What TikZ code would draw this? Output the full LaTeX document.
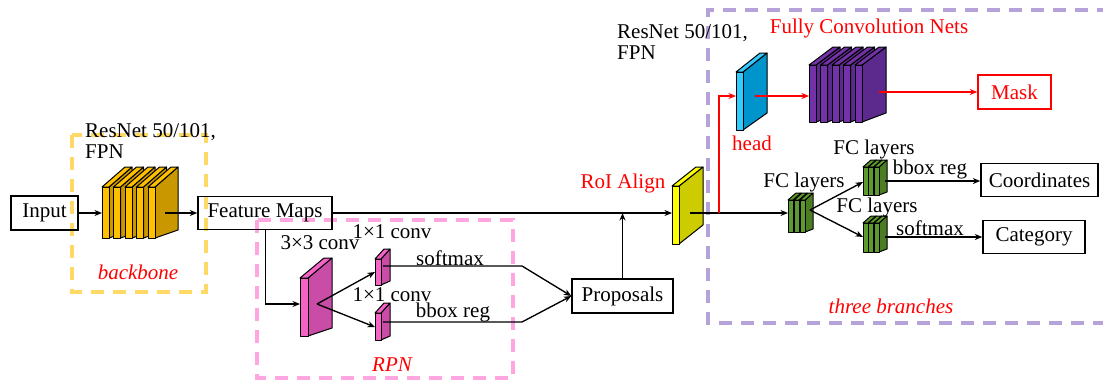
\documentclass[tikz,border=0pt]{standalone}
\usepackage{fontspec}
\setmainfont{Liberation Serif}
\usetikzlibrary{arrows.meta}
\newcommand\fs{\fontsize{21}{20.5}\selectfont}
\definecolor{bbdash}{HTML}{FFD966}
\definecolor{rpndash}{HTML}{FFA6E0}
\definecolor{brdash}{HTML}{B4A2D8}
\definecolor{yelF}{HTML}{FFC000}
\definecolor{yelS}{HTML}{C99700}
\definecolor{pinkF}{HTML}{F463C6}
\definecolor{pinkS}{HTML}{C94DA6}
\definecolor{roiF}{HTML}{FFFF00}
\definecolor{roiS}{HTML}{CCCC00}
\definecolor{blueF}{HTML}{33CCFF}
\definecolor{blueS}{HTML}{0094CC}
\definecolor{purF}{HTML}{7432A8}
\definecolor{purS}{HTML}{5B2A8C}
\definecolor{grnF}{HTML}{5E9A2D}
\definecolor{grnS}{HTML}{4C7D24}
\newcommand\myslab[9]{%
  \filldraw[fill=#9, slabline] ({#1+#4},#2) -- ({#1+#4+#5},{#2-#6}) -- ({#1+#4+#5},{#3-#7}) -- ({#1+#4},#3) -- cycle;
  \filldraw[fill=#8, slabline] (#1,#2) -- ({#1+#5},{#2-#6}) -- ({#1+#4+#5},{#2-#6}) -- ({#1+#4},#2) -- cycle;
  \filldraw[fill=#8, slabline] (#1,#2) rectangle ({#1+#4},#3);
}
\tikzset{
  slabline/.style={draw=black, line width=1pt, line join=round},
  box/.style={draw=black, line width=1.4pt, inner sep=0pt, font=\fs},
  lbl/.style={inner sep=0pt, font=\fs},
  redlbl/.style={lbl, text=red},
  conn/.style={draw=black, line width=1.35pt},
  arr/.style={conn, -{Stealth[length=7.5pt,width=6pt]}},
  redarr/.style={draw=red, line width=1.35pt, -{Stealth[length=7.5pt,width=6pt]}},
  dashbox/.style={line width=3.2pt, dash pattern=on 13pt off 9pt},
}
\begin{document}
\begin{tikzpicture}[x=1pt,y=-1pt]
\useasboundingbox (0,0) rectangle (1103,381);
% dashed regions
\draw[dashbox, draw=bbdash] (72,135) rectangle (206,292);
\draw[dashbox, draw=rpndash] (257,220) rectangle (513,378);
\draw[dashbox, draw=brdash] (1110,10) -- (708,10) -- (708,323) -- (1110,323);

% boxes
\node[box, minimum width=67pt, minimum height=34pt] (inp) at (44.5,213) {Input};
\node[box, minimum width=134pt, minimum height=33pt] (fm) at (265,213) {Feature Maps};
\node[box, minimum width=101pt, minimum height=34pt] (prop) at (622.5,296) {Proposals};
\node[box, draw=red, text=red, minimum width=73pt, minimum height=34pt] (mask) at (1014.5,92) {Mask};
\node[box, minimum width=117pt, minimum height=33pt] (coord) at (1039.5,180) {Coordinates};
\node[box, minimum width=102pt, minimum height=33pt] (cat) at (1034,237) {Category};

% slabs
\foreach \xx in {102,113.5,125,136.5,148} {\myslab{\xx}{187}{238}{7}{23}{20}{8}{yelF}{yelS}}
\myslab{300}{278}{336}{8}{24}{20}{8}{pinkF}{pinkS}
\myslab{375}{259}{285}{6}{9}{10}{4}{pinkF}{pinkS}
\myslab{375}{313}{340}{6}{9}{10}{4}{pinkF}{pinkS}
\myslab{672}{186}{244}{7}{24}{19}{19}{roiF}{roiS}
\myslab{736}{72}{130}{7}{24}{19}{17}{blueF}{blueS}
\foreach \xx in {809,820.5,832,843.5,855} {\myslab{\xx}{65}{122}{7}{24}{18}{9}{purF}{purS}}
\foreach \xx in {788,794,800} {\myslab{\xx}{200}{232}{5}{8}{7}{3}{grnF}{grnS}}
\foreach \xx in {863,868.5,874} {\myslab{\xx}{167}{195}{5}{8}{7}{3}{grnF}{grnS}}
\foreach \xx in {863,868.5,874} {\myslab{\xx}{223}{252}{5}{8}{7}{3}{grnF}{grnS}}

% connection points
\coordinate (bbIn) at (102,213);
\coordinate (bbOut) at (165,213);
\coordinate (c3In) at (300,304);
\coordinate (c3Out) at (317,304);
\coordinate (c1aIn) at (375,272);
\coordinate (c1bIn) at (375,327);
\coordinate (c1aOut) at (383,266);
\coordinate (c1bOut) at (383,322);
\coordinate (bendA) at (522,266);
\coordinate (bendB) at (522,322);
\coordinate (roiIn) at (672,213);
\coordinate (roiOut) at (690,213);
\coordinate (redJ) at (719,213);
\coordinate (headIn) at (736,96);
\coordinate (headOut) at (755,96);
\coordinate (fcnIn) at (809,96);
\coordinate (fcnOut) at (879,92);
\coordinate (g1In) at (788,213);
\coordinate (g1Out) at (810,210);
\coordinate (g2In) at (863,182);
\coordinate (g3In) at (863,237);
\coordinate (g2Out) at (885,181);
\coordinate (g3Out) at (885,237);

% connectors
\draw[arr] (inp.east) -- (bbIn);
\draw[arr] (bbOut) -- (fm.west);
\draw[arr] (fm.east) -- (roiIn);
\draw[arr] ([xshift=68pt]fm.south west) |- (c3In);
\draw[arr] (c3Out) -- (c1aIn);
\draw[arr] (c3Out) -- (c1bIn);
\draw[arr] (c1aOut) -- (bendA) -- (prop.west);
\draw[arr] (c1bOut) -- (bendB) -- (prop.west);
\draw[arr] (prop.north) -- (prop.north |- roiIn);
\draw[arr] (roiOut) -- (g1In);
\draw[redarr] (redJ) |- (headIn);
\draw[redarr] (headOut) -- (fcnIn);
\draw[redarr] (fcnOut) -- (mask.west);
\draw[arr] (g1Out) -- (g2In);
\draw[arr] (g1Out) -- (g3In);
\draw[arr] (g2Out) -- (g2Out -| coord.west);
\draw[arr] (g3Out) -- (g3Out -| cat.west);

% labels
\node[lbl, align=left, anchor=west] (rn1) at (85,141) {ResNet 50/101,\\FPN};
\node[lbl, align=left, anchor=west] (rn2) at (617,42) {ResNet 50/101,\\FPN};
\node[redlbl, font=\fs\itshape] (lbb) at (138,272) {backbone};
\node[redlbl, font=\fs\itshape] (lrpn) at (392,365) {RPN};
\node[redlbl, font=\fs\itshape] (ltb) at (891,306) {three branches};
\node[redlbl] (lroi) at (623,183) {RoI Align};
\node[redlbl] (lhead) at (752,143) {head};
\node[redlbl] (lfcn) at (869,28) {Fully Convolution Nets};
\node[lbl] (l33) at (320,243) {3×3 conv};
\node[lbl] (l11a) at (392,232) {1×1 conv};
\node[lbl] (lsm1) at (450,258) {softmax};
\node[lbl] (l11b) at (392,295) {1×1 conv};
\node[lbl] (lbr1) at (453,312) {bbox reg};
\node[lbl] (lfc1) at (804,182) {FC layers};
\node[lbl] (lfc2) at (874,149) {FC layers};
\node[lbl] (lbr2) at (930,169) {bbox reg};
\node[lbl] (lfc3) at (877,207) {FC layers};
\node[lbl] (lsm2) at (930,228) {softmax};
\end{tikzpicture}
\end{document}
